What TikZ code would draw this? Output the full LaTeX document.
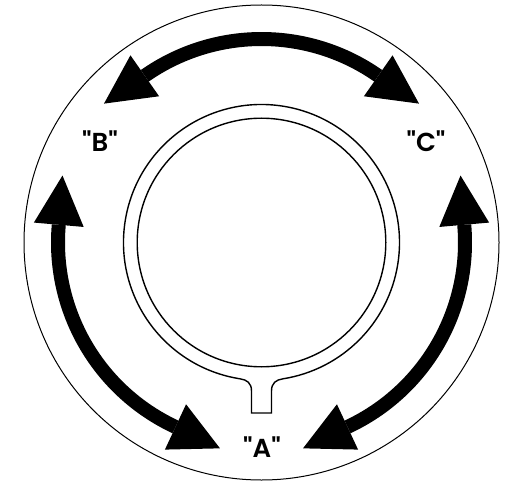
\documentclass[tikz,border=0pt]{standalone}
\usepackage{fontspec}
\newfontfamily\labfont{Poppins}[UprightFont=* SemiBold]
\begin{document}
\begin{tikzpicture}[x=1pt,y=1pt,
  thinline/.style={line width=1pt},
  contour/.style={line width=1.4pt},
  bigarc/.style={line width=14pt, line cap=butt},
  head/.style={fill=black},
  lab/.style={font=\labfont\fontsize{26}{28}\selectfont, inner sep=0pt}]
\useasboundingbox (0,0) rectangle (506,483);
\coordinate (C) at (261.5,240.5);
% outer circle
\draw[thinline] (C) circle[radius=237.5];
% inner circle
\draw[contour] (C) circle[radius=124.3];
% keyhole contour
\draw[contour] (251.5,70) -- (251.5,92) .. controls (251.5,100) and (247,103.2) .. (240,104.2)
  arc[start angle=261.04, end angle=-81.04, radius=138]
  .. controls (276,103.2) and (271.5,100) .. (271.5,92) -- (271.5,70) -- cycle;
% arrows
\begin{scope}[shift={(C)}]
  \foreach \p/\n in {90/top,210/left,330/right}{
    \coordinate (\n-s) at ({\p+35}:203.5);
    \coordinate (\n-e) at ({\p-35}:203.5);
    \draw[bigarc] (\n-s) arc[start angle={\p+35}, end angle={\p-35}, radius=203.5];
    \fill[head] ({\p+35}:178.5) -- ({\p+48.6}:210) -- ({\p+35}:228.5) -- cycle;
    \fill[head] ({\p-35}:178.5) -- ({\p-48.6}:210) -- ({\p-35}:228.5) -- cycle;
  }
\end{scope}
% labels
\node[lab] (B) at (100,342) {"B"};
\node[lab] (Cl) at (426,342) {"C"};
\node[lab] (A) at (262,36) {"A"};
\end{tikzpicture}
\end{document}
